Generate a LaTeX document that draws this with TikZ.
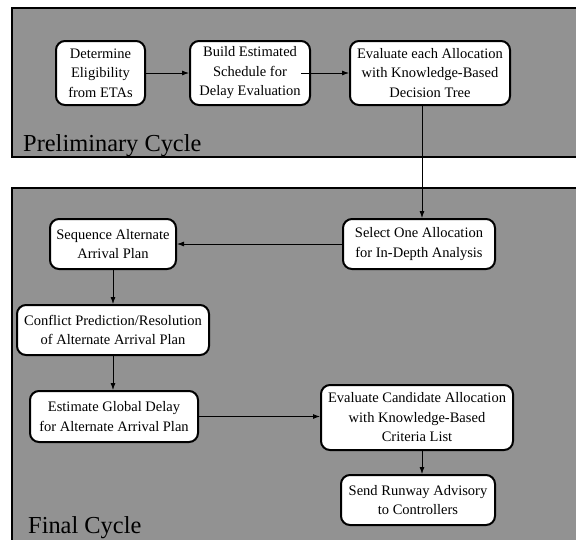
\documentclass[tikz,border=0pt]{standalone}
\usepackage{fontspec}
\setmainfont{Liberation Serif}
\usetikzlibrary{arrows.meta}
\begin{document}
\begin{tikzpicture}[x=1pt,y=-1pt,
  cycbox/.style={draw=black,line width=2.4pt,fill=cycgray},
  stepbox/.style={draw=black,line width=2pt,fill=white,rounded corners=9pt,align=center,
    font=\fontsize{14.5}{19.5}\selectfont,inner sep=0pt},
  conn/.style={line width=0.8pt,-{Latex[length=7pt,width=5pt]}},
  cyclabel/.style={anchor=base west,font=\fontsize{24.4}{28}\selectfont,inner sep=0pt}]
\definecolor{cycgray}{RGB}{146,146,146}
\useasboundingbox (0,0) rectangle (576,539);
\clip (0,0) rectangle (576,539);
\fill[white] (0,0) rectangle (576,539);
\draw[cycbox] (12,8) rectangle (590,157);
\draw[cycbox] (12,188) rectangle (590,560);
\node[cyclabel] (lp) at (23,151) {Preliminary Cycle};
\node[cyclabel] (lf) at (28,533) {Final Cycle};
\node[stepbox,minimum width=89pt,minimum height=64pt] (det) at (100.5,73) {Determine\\Eligibility\\from ETAs};
\node[stepbox,minimum width=120pt,minimum height=64pt] (bld) at (250,73) {Build Estimated\\Schedule for\\Delay Evaluation};
\node[stepbox,minimum width=160pt,minimum height=64pt] (eva) at (430,73) {Evaluate each Allocation\\with Knowledge-Based\\Decision Tree};
\node[stepbox,minimum width=152pt,minimum height=50pt] (sel) at (419,244) {Select One Allocation\\for In-Depth Analysis};
\node[stepbox,minimum width=126pt,minimum height=50pt] (seq) at (113,244) {Sequence Alternate\\Arrival Plan};
\node[stepbox,minimum width=192pt,minimum height=50pt] (con) at (113,330) {Conflict Prediction/Resolution\\of Alternate Arrival Plan};
\node[stepbox,minimum width=168pt,minimum height=51pt] (est) at (114,416.5) {Estimate Global Delay\\for Alternate Arrival Plan};
\node[stepbox,minimum width=192pt,minimum height=65pt] (cand) at (417,417.5) {Evaluate Candidate Allocation\\with Knowledge-Based\\Criteria List};
\node[stepbox,minimum width=154pt,minimum height=50pt] (snd) at (418,500) {Send Runway Advisory\\to Controllers};
\draw[conn] (det.east) -- (bld.west);
\draw[conn] ([xshift=-10pt]bld.east) -- (eva.west);
\draw[conn] (eva.south -| 422,0) -- (sel.north -| 422,0);
\draw[conn] (sel.west) -- (seq.east);
\draw[conn] (seq.south) -- (con.north);
\draw[conn] (con.south) -- (est.north -| con.south);
\draw[conn] (est.east) -- (cand.west |- est.east);
\draw[conn] (cand.south -| 422,0) -- (snd.north -| 422,0);
\end{tikzpicture}
\end{document}
